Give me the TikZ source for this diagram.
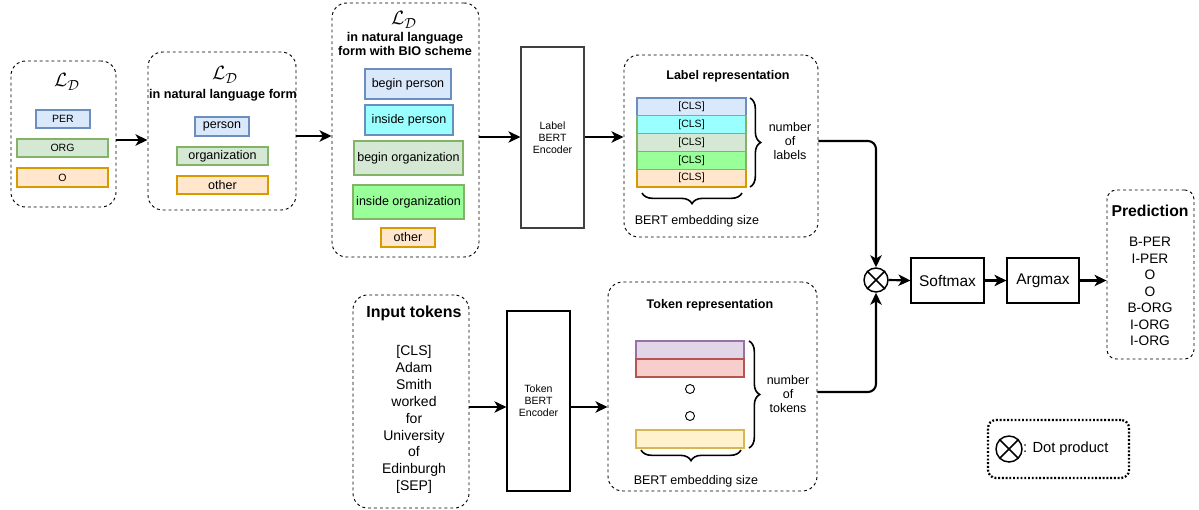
\documentclass[tikz,border=0pt]{standalone}
\usepackage{fontspec}
\setmainfont{Liberation Sans}
\usetikzlibrary{arrows.meta,decorations.pathreplacing,fit,calc}
\definecolor{bfill}{HTML}{DAE8FC}\definecolor{bdraw}{HTML}{6C8EBF}
\definecolor{gfill}{HTML}{D5E8D4}\definecolor{gdraw}{HTML}{82B366}
\definecolor{ofill}{HTML}{FFE6CC}\definecolor{odraw}{HTML}{D79B00}
\definecolor{cfill}{HTML}{99FFFF}
\definecolor{lgfill}{HTML}{99FF99}
\definecolor{pfill}{HTML}{E1D5E7}\definecolor{pdraw}{HTML}{9673A6}
\definecolor{rfill}{HTML}{F8CECC}\definecolor{rdraw}{HTML}{B85450}
\definecolor{yfill}{HTML}{FFF2CC}\definecolor{ydraw}{HTML}{D6B656}
\newlength\px \setlength\px{0.75pt}
\begin{document}
\begin{tikzpicture}[x=0.75pt,y=-0.75pt,
  dbox/.style={draw, line width=0.7pt, dash pattern=on 2.2pt off 2.2pt, rounded corners=11pt, inner sep=0pt},
  lab/.style={draw, line width=0.8pt, inner sep=0pt},
  plain/.style={draw, line width=0.8pt, inner sep=0pt},
  arr/.style={-{Stealth[length=9pt,width=8.5pt,inset=2.5pt]}, line width=1.6pt},
  brc/.style={decorate, decoration={brace, amplitude=8pt}, line width=1.2pt},
  ldf/.style={font=\fontsize{15}{18}\selectfont},
  fs/.style={font=\fontsize{7.9}{9}\selectfont},
  fm/.style={font=\fontsize{9.4}{10.5}\selectfont},
  fb/.style={font=\bfseries\fontsize{9.5}{10.5}\selectfont, align=center},
  fl/.style={font=\fontsize{11.6}{13}\selectfont},
  row/.style={draw, line width=0.8pt, minimum width=109\px, minimum height=17.8\px, inner sep=0pt, font=\fontsize{7.9}{9}\selectfont}
]
\useasboundingbox (0,0) rectangle (1199,510);

% ---- box 1
\node[dbox, fit={(11,61) (116,207)}] (b1) {};
\node[ldf] (ld1) at (67,82) {$\mathcal{L}_{\mathcal{D}}$};
\node[lab, fill=bfill, draw=bdraw, fit={(36,110) (90,128)}] (per) {};
\node[fs] at (per.center) {PER};
\node[lab, fill=gfill, draw=gdraw, fit={(17,139) (108,157)}] (org) {};
\node[fs] at (org.center) {ORG};
\node[lab, fill=ofill, draw=odraw, fit={(17,168) (108,187)}] (o) {};
\node[fs] at (o.center) {O};

% ---- box 2
\node[dbox, fit={(148,52) (296,210)}] (b2) {};
\node[ldf] (ld2) at (225,75) {$\mathcal{L}_{\mathcal{D}}$};
\node[fb] (t2) at (223,95) {in natural language form};
\node[lab, fill=bfill, draw=bdraw, fit={(195,117) (249,136)}] (person) {};
\node[fm] at (person.center) {person};
\node[lab, fill=gfill, draw=gdraw, fit={(177,147) (268,165)}] (organization) {};
\node[fm] at (organization.center) {organization};
\node[lab, fill=ofill, draw=odraw, fit={(177,176) (268,194)}] (other) {};
\node[fm] at (other.center) {other};

% ---- box 3
\node[dbox, fit={(332,3) (479,257)}] (b3) {};
\node[ldf] (ld3) at (404,20) {$\mathcal{L}_{\mathcal{D}}$};
\node[fb] (t3) at (405,44) {in natural language\\form with BIO scheme};
\node[lab, fill=bfill, draw=bdraw, fit={(365,69) (451,99)}] (bp) {};
\node[fm] at (bp.center) {begin person};
\node[lab, fill=cfill, draw=bdraw, fit={(365,105) (453,135)}] (ip) {};
\node[fm] at (ip.center) {inside person};
\node[lab, fill=gfill, draw=gdraw, fit={(354,141) (463,175)}] (bo) {};
\node[fm] at (bo.center) {begin organization};
\node[lab, fill=lgfill, draw=gdraw, fit={(353,185) (464,219)}] (io) {};
\node[fm] at (io.center) {inside organization};
\node[lab, fill=ofill, draw=odraw, fit={(381,228) (435,247)}] (oth) {};
\node[fm] at (oth.center) {other};

% ---- label encoder
\node[plain, draw=black!75, fit={(521,47) (584,228)}] (lenc) {};
\node[fs, align=center] at (lenc.center) {Label\\BERT\\Encoder};

% ---- label representation
\node[dbox, fit={(624,55) (818,237)}] (lrep) {};
\node[font=\bfseries\fontsize{9.4}{10.5}\selectfont] (lt) at (728,76) {Label representation};
\node[row, fill=bfill, draw=bdraw] (c1) at (691.5,106.9) {[CLS]};
\node[row, fill=cfill, draw=gdraw] (c2) at (691.5,124.7) {[CLS]};
\node[row, fill=gfill, draw=gdraw] (c3) at (691.5,142.5) {[CLS]};
\node[row, fill=lgfill, draw=gdraw] (c4) at (691.5,160.3) {[CLS]};
\node[row, fill=ofill, draw=odraw] (c5) at (691.5,178.1) {[CLS]};
\draw[brc] (750,98) -- (750,187);
\node[fm, align=center] (nl) at (790,141) {number\\of\\labels};
\draw[brc] (742,193) -- (642,193);
\node[fm] (bes1) at (697,221) {BERT embedding size};

% ---- input tokens
\node[dbox, fit={(353,295) (469,508)}] (inp) {};
\node[font=\bfseries\fontsize{12}{14}\selectfont] (it) at (414,313) {Input tokens};
\node[font=\fontsize{10.5}{12.7}\selectfont, align=center] (toks) at (414,419.5) {{[CLS]}\\Adam\\Smith\\worked\\for\\University\\of\\Edinburgh\\{[SEP]}};

% ---- token encoder
\node[plain, fit={(507,311) (570,491)}] (tenc) {};
\node[fs, align=center] at (tenc.center) {Token\\BERT\\Encoder};

% ---- token representation
\node[dbox, fit={(608,282) (817,491)}] (trep) {};
\node[font=\bfseries\fontsize{9.4}{10.5}\selectfont] (tt) at (710,305) {Token representation};
\node[lab, fill=pfill, draw=pdraw, fit={(636,341) (744,359)}] (r1) {};
\node[lab, fill=rfill, draw=rdraw, fit={(636,359) (744,377)}] (r2) {};
\node[lab, fill=yfill, draw=ydraw, fit={(636,430) (744,448)}] (r3) {};
\node[circle, draw, line width=0.7pt, minimum size=9\px, inner sep=0pt] (d1) at (690,389) {};
\node[circle, draw, line width=0.7pt, minimum size=9\px, inner sep=0pt] (d2) at (690,416) {};
\draw[brc] (749,341) -- (749,448);
\node[fm, align=center] (nt) at (788,394) {number\\of\\tokens};
\draw[brc] (741,450) -- (641,450);
\node[fm] (bes2) at (696,481) {BERT embedding size};

% ---- dot product, softmax, argmax
\node[circle, draw, line width=1.1pt, minimum size=24\px, inner sep=0pt] (dot) at (876,280) {};
\draw[line width=1.1pt] (dot.north east) -- (dot.south west) (dot.north west) -- (dot.south east);
\node[plain, fit={(911,258) (984,303)}] (soft) {};
\node[fl] at (soft.center) {Softmax};
\node[plain, fit={(1007,258) (1079,303)}] (arg) {};
\node[fl] at (arg.center) {Argmax};

% ---- prediction
\node[dbox, rounded corners=7pt, fit={(1107,190) (1194,359)}] (pred) {};
\node[font=\bfseries\fontsize{11.8}{14}\selectfont] (pt) at (1150,211) {Prediction};
\node[font=\fontsize{10.3}{12.4}\selectfont, align=center] (pl) at (1150,291.5) {B-PER\\I-PER\\O\\O\\B-ORG\\I-ORG\\I-ORG};

% ---- legend
\node[draw, line width=1.7pt, dash pattern=on 1.4pt off 1.4pt, rounded corners=6pt, inner sep=0pt, fit={(988,420) (1129,478)}] (leg) {};
\node[circle, draw, line width=1.1pt, minimum size=26\px, inner sep=0pt] (ldot) at (1009,449) {};
\draw[line width=1.1pt] (ldot.north east) -- (ldot.south west) (ldot.north west) -- (ldot.south east);
\node[anchor=west, inner sep=0pt, font=\fontsize{11}{13}\selectfont] (ltxt) at (ldot.east) {: Dot product};

% ---- helper levels
\coordinate (h1) at (0,140);
\coordinate (h2) at (0,136);
\coordinate (h3) at (0,137);
\coordinate (h4) at (0,407);
\coordinate (h5) at (0,141);
\coordinate (h6) at (0,392);

% ---- connectors
\draw[arr] (b1.east |- h1) -- (b2.west |- h1);
\draw[arr] (b2.east |- h2) -- (b3.west |- h2);
\draw[arr] (b3.east |- h3) -- (lenc.west |- h3);
\draw[arr] (lenc.east |- h3) -- (lrep.west |- h3);
\draw[arr] (inp.east |- h4) -- (tenc.west |- h4);
\draw[arr] (tenc.east |- h4) -- (trep.west |- h4);
\draw[arr, rounded corners=6pt] (lrep.east |- h5) -| (dot.north);
\draw[arr, rounded corners=6pt] (trep.east |- h6) -| (dot.south);
\draw[arr] (dot.east) -- (soft.west);
\draw[arr] (soft.east) -- (arg.west);
\draw[arr] (arg.east) -- (pred.west |- arg.east);
\end{tikzpicture}
\end{document}
